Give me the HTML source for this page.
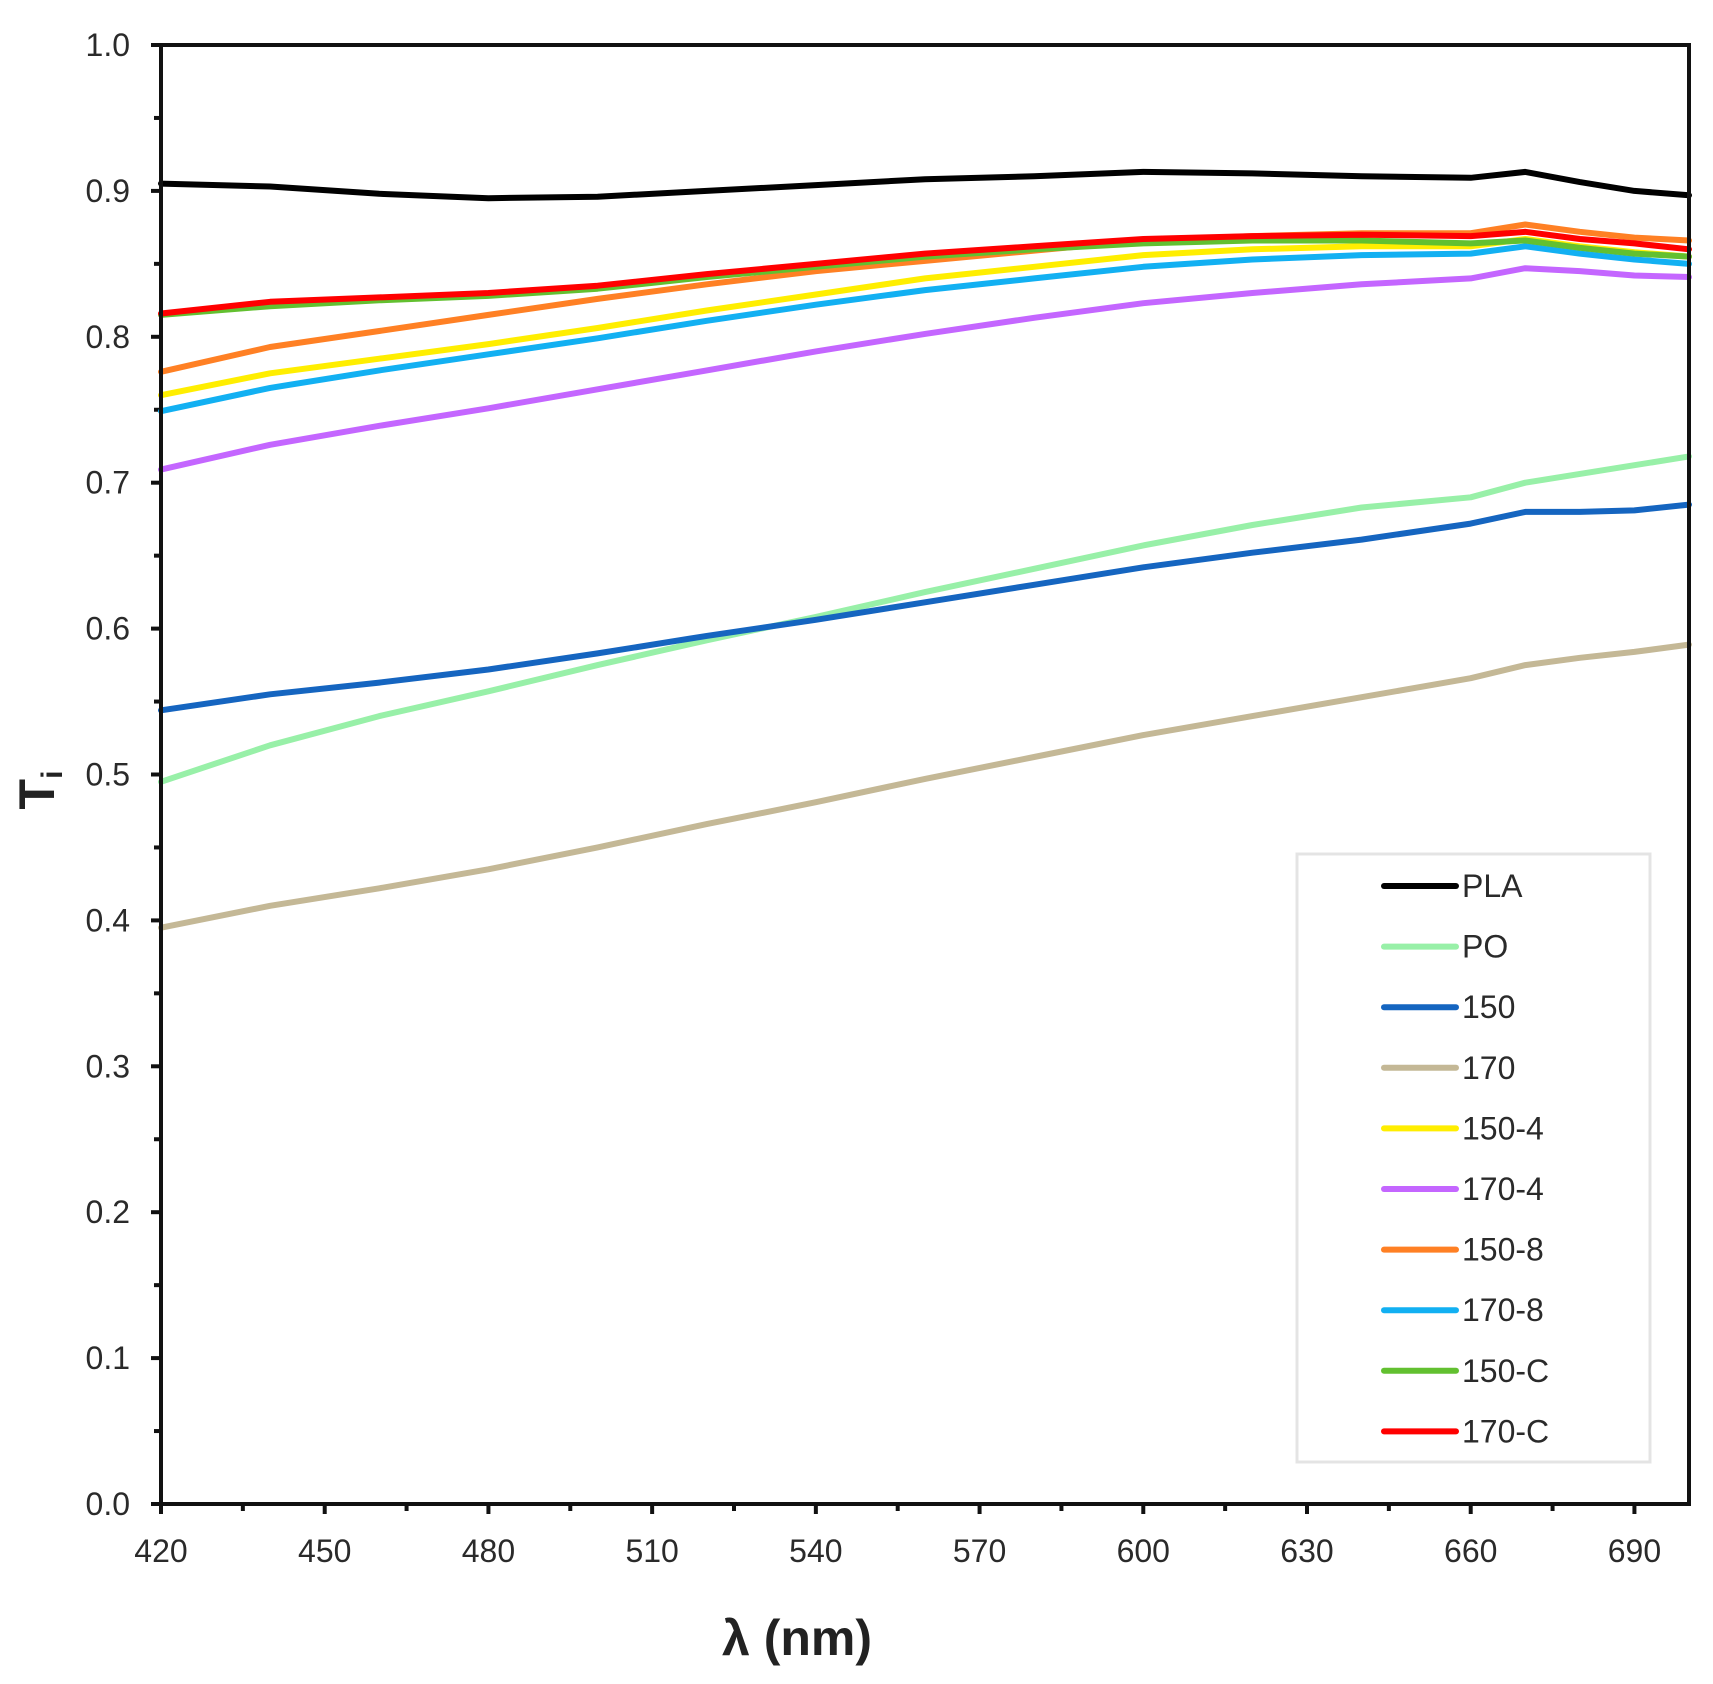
<!DOCTYPE html>
<html><head><meta charset="utf-8"><style>
html,body{margin:0;padding:0;background:#fff}
svg{display:block;font-family:"Liberation Sans",sans-serif}
</style></head><body>
<svg id="chart" width="1713" height="1684" viewBox="0 0 1713 1684" xmlns="http://www.w3.org/2000/svg">
<g id="plot"></g>
</svg>
<script>
const wavelengths = [420,440,460,480,500,520,540,560,580,600,620,640,660,670,680,690,700];
const seriesNames = ["PLA","PO","150","170","150-4","170-4","150-8","170-8","150-C","170-C"];
const valsPLA  = [.905,.903,.898,.895,.896,.900,.904,.908,.910,.913,.912,.910,.909,.913,.906,.900,.897];
const valsPO   = [.495,.520,.540,.557,.575,.592,.608,.625,.641,.657,.671,.683,.690,.700,.706,.712,.718];
const vals150  = [.544,.555,.563,.572,.583,.595,.606,.618,.630,.642,.652,.661,.672,.680,.680,.681,.685];
const vals170  = [.395,.410,.422,.435,.450,.466,.481,.497,.512,.527,.540,.553,.566,.575,.580,.584,.589];
const vals1504 = [.760,.775,.785,.795,.806,.818,.829,.840,.848,.856,.860,.862,.862,.867,.862,.858,.855];
const vals1704 = [.709,.726,.739,.751,.764,.777,.790,.802,.813,.823,.830,.836,.840,.847,.845,.842,.841];
const vals1508 = [.776,.793,.804,.815,.826,.836,.845,.852,.859,.866,.869,.871,.871,.877,.872,.868,.866];
const vals1708 = [.749,.765,.777,.788,.799,.811,.822,.832,.840,.848,.853,.856,.857,.862,.857,.853,.850];
const vals150C = [.815,.821,.825,.828,.833,.841,.848,.855,.860,.864,.866,.866,.864,.866,.861,.857,.855];
const vals170C = [.816,.824,.827,.830,.835,.843,.850,.857,.862,.867,.869,.870,.869,.872,.867,.864,.860];
const xTicks = [420,450,480,510,540,570,600,630,660,690];
const yTicks = ["0.0","0.1","0.2","0.3","0.4","0.5","0.6","0.7","0.8","0.9","1.0"];

const allVals = [valsPLA,valsPO,vals150,vals170,vals1504,vals1704,vals1508,vals1708,vals150C,vals170C];
const colors = ["#000000","#98f0a8","#1565c0","#c4b896","#ffee00","#c466ff","#ff8024","#12b0f2","#62c030","#ff0000"];

const L=161,R=1689,T=45,B=1504;
const xs=v=>L+(v-420)/(700-420)*(R-L);
const ys=v=>B-v*(B-T);
const NS="http://www.w3.org/2000/svg";
const g=document.getElementById('plot');
function mk(tag,attrs,parent){const e=document.createElementNS(NS,tag);for(const k in attrs)e.setAttribute(k,attrs[k]);(parent||g).appendChild(e);return e;}

for(let v=420;v<=700;v+=15){
  const t=mk('line',{x1:xs(v),x2:xs(v),y1:B,y2:B+(v%30===0?10:7),stroke:'#111','stroke-width':4});
  
  
}
xTicks.forEach(v=>{
  const t=mk('text',{x:xs(v),y:1562,'text-anchor':'middle','font-size':32,fill:'#2a2a2a'});
  t.textContent=v;
  
  
});
for(let i=0;i<=20;i++){
  const v=i*0.05;
  const t=mk('line',{x1:L-(i%2===0?10:7),x2:L,y1:ys(v),y2:ys(v),stroke:'#111','stroke-width':4});
  
  
}
yTicks.forEach(s=>{
  const t=mk('text',{x:130,y:ys(parseFloat(s))+11,'text-anchor':'end','font-size':32,fill:'#2a2a2a'});
  t.textContent=s;
  
  
});

allVals.forEach((vals,i)=>{
  const pts=vals.map((v,j)=>xs(wavelengths[j]).toFixed(1)+','+ys(v).toFixed(1)).join(' ');
  const p=mk('polyline',{points:pts,fill:'none',stroke:colors[i],'stroke-width':6,'stroke-linejoin':'round','stroke-linecap':'round'});
  
  
});

const fr=mk('rect',{x:L,y:T,width:R-L,height:B-T,fill:'none',stroke:'#111','stroke-width':4});



const lg=mk('g',{});


mk('rect',{x:1297,y:854,width:353,height:608,fill:'#fff',stroke:'#e4e4e4','stroke-width':3},lg);
seriesNames.forEach((n,i)=>{
  const y=886+i*60.6;
  const e=mk('g',{},lg);
  
  
  mk('line',{x1:1384,x2:1456,y1:y,y2:y,stroke:colors[i],'stroke-width':6,'stroke-linecap':'round'},e);
  const t=mk('text',{x:1462,y:y+11,'font-size':32,fill:'#2a2a2a'},e);
  t.textContent=n;
});

const xt=mk('text',{x:797,y:1655,'text-anchor':'middle','font-size':50,'font-weight':'bold',fill:'#222'});
xt.textContent='λ (nm)';


const yt=mk('text',{x:0,y:0,'text-anchor':'middle','font-size':50,'font-weight':'bold',fill:'#222',transform:'translate(54,790) rotate(-90)'});
yt.innerHTML='T<tspan font-size="30" dy="8">i</tspan>';


</script>
</body></html>
